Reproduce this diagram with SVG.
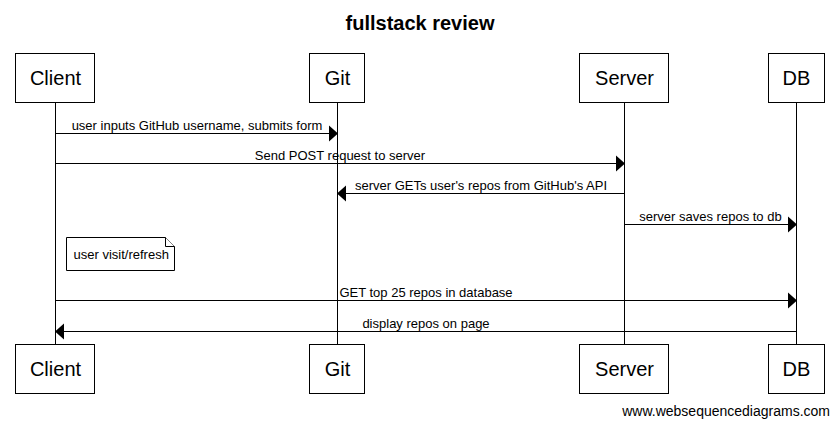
<svg xmlns="http://www.w3.org/2000/svg" width="839" height="427" viewBox="0 0 839 427">
<style>
text{font-family:"Liberation Sans",Arial,sans-serif;fill:#000}
.title{font-size:20px;font-weight:bold;text-anchor:middle}
.part rect{fill:#fff;stroke:#000;stroke-width:1}
.part text{font-size:20px;text-anchor:middle}
.life{stroke:#000;stroke-width:1}
.msg line{stroke:#000;stroke-width:1}
.msg text{font-size:13px;text-anchor:middle}
.note path{fill:#fff;stroke:#000;stroke-width:1}
.note text{font-size:13px}
.foot{font-size:14px;text-anchor:end}
</style>
<defs>
<path id="ahR" d="M-9,-8 L0,0 L-9,8 Z" fill="#000"/>
<path id="ahL" d="M9,-8 L0,0 L9,8 Z" fill="#000"/>
</defs>
<rect width="839" height="427" fill="#fff"/>
<text class="title" x="420" y="29.5">fullstack review</text>
<g id="lifelines">
<line class="life" x1="55.5" y1="102.5" x2="55.5" y2="344.5"/>
<line class="life" x1="337.5" y1="102.5" x2="337.5" y2="344.5"/>
<line class="life" x1="624.5" y1="102.5" x2="624.5" y2="344.5"/>
<line class="life" x1="796.5" y1="102.5" x2="796.5" y2="344.5"/>
</g>
<g id="client" class="part">
<rect x="15.5" y="53.5" width="79" height="49"/><text x="55.5" y="85">Client</text>
<rect x="15.5" y="344.5" width="79" height="49"/><text x="55.5" y="376">Client</text>
</g>
<g id="git" class="part">
<rect x="309.5" y="53.5" width="55" height="49"/><text x="337.5" y="85">Git</text>
<rect x="309.5" y="344.5" width="55" height="49"/><text x="337.5" y="376">Git</text>
</g>
<g id="server" class="part">
<rect x="579.5" y="53.5" width="89" height="49"/><text x="624.5" y="85">Server</text>
<rect x="579.5" y="344.5" width="89" height="49"/><text x="624.5" y="376">Server</text>
</g>
<g id="db" class="part">
<rect x="768.5" y="53.5" width="56" height="49"/><text x="796.5" y="85">DB</text>
<rect x="768.5" y="344.5" width="56" height="49"/><text x="796.5" y="376">DB</text>
</g>
<g id="connectors" class="msg">
<line x1="55.5" y1="133.5" x2="329" y2="133.5"/>
<use href="#ahR" x="338" y="133.5"/>
<text x="197" y="129.5">user inputs GitHub username, submits form</text>
<line x1="55.5" y1="163.5" x2="616" y2="163.5"/>
<use href="#ahR" x="625" y="163.5"/>
<text x="340" y="159.5">Send POST request to server</text>
<line x1="624.5" y1="193.5" x2="346" y2="193.5"/>
<use href="#ahL" x="337" y="193.5"/>
<text x="481" y="189.5">server GETs user's repos from GitHub's API</text>
<line x1="624.5" y1="224.5" x2="788" y2="224.5"/>
<use href="#ahR" x="797" y="224.5"/>
<text x="710.5" y="220.5">server saves repos to db</text>
<line x1="55.5" y1="300.5" x2="788" y2="300.5"/>
<use href="#ahR" x="797" y="300.5"/>
<text x="426" y="296.5">GET top 25 repos in database</text>
<line x1="796.5" y1="331.5" x2="64" y2="331.5"/>
<use href="#ahL" x="55" y="331.5"/>
<text x="426" y="327.5">display repos on page</text>
</g>
<g id="note" class="note">
<path d="M66.5,237.5 H165.5 L174.5,246.5 V270.5 H66.5 Z"/>
<path d="M165.5,237.5 V246.5 H174.5" fill="none"/>
<text x="73.5" y="258.5">user visit/refresh</text>
</g>
<text class="foot" x="830" y="416">www.websequencediagrams.com</text>
</svg>
